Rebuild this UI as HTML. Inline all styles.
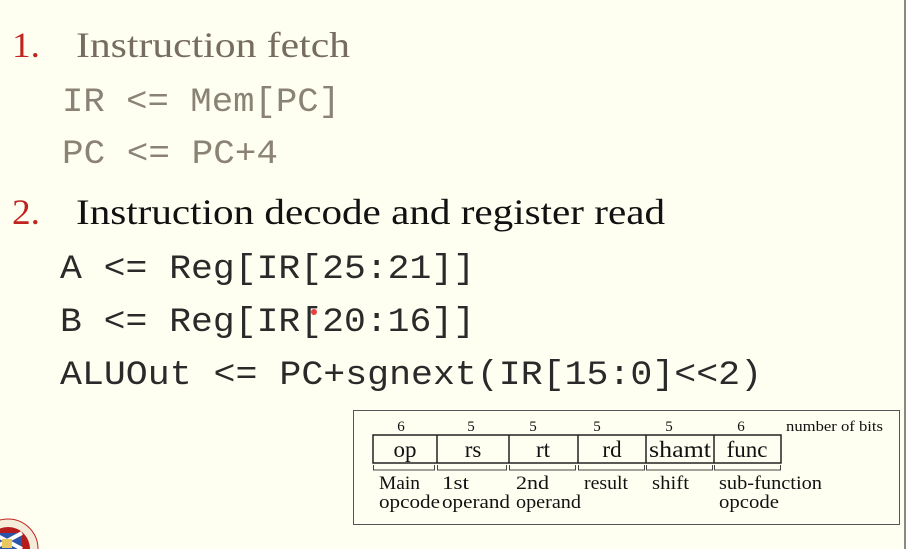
<!DOCTYPE html>
<html><head><meta charset="utf-8"><style>
html,body{margin:0;padding:0;background:#fefff0;width:906px;height:549px;overflow:hidden;}
svg{display:block;}
</style></head><body>
<svg width="906" height="549" viewBox="0 0 906 549" xmlns="http://www.w3.org/2000/svg">
<defs><clipPath id="c"><rect width="906" height="549"/></clipPath></defs>
<g clip-path="url(#c)">
<rect width="906" height="549" fill="#fefff0"/>
<rect x="904" y="0" width="2" height="549" fill="#8a8a80"/>
<g font-family="Liberation Serif, serif">
<text x="12" y="57" font-size="36" fill="#c0241f" textLength="28" lengthAdjust="spacingAndGlyphs">1.</text>
<text x="76" y="57" font-size="36" fill="#766d60" textLength="274" lengthAdjust="spacingAndGlyphs">Instruction fetch</text>
<text x="12" y="224" font-size="36" fill="#c0241f" textLength="28" lengthAdjust="spacingAndGlyphs">2.</text>
<text x="76" y="224" font-size="36" fill="#111" textLength="589" lengthAdjust="spacingAndGlyphs">Instruction decode and register read</text>
</g>
<g font-family="Liberation Mono, monospace" font-size="34">
<text x="62" y="111" fill="#8a8274" textLength="278" lengthAdjust="spacingAndGlyphs">IR &lt;= Mem[PC]</text>
<text x="62" y="163" fill="#8a8274" textLength="216" lengthAdjust="spacingAndGlyphs">PC &lt;= PC+4</text>
<text x="60" y="278" fill="#2a2a2a" textLength="415" lengthAdjust="spacingAndGlyphs">A &lt;= Reg[IR[25:21]]</text>
<text x="60" y="331" fill="#2a2a2a" textLength="415" lengthAdjust="spacingAndGlyphs">B &lt;= Reg[IR[20:16]]</text>
<text x="60" y="384" fill="#2a2a2a" textLength="702" lengthAdjust="spacingAndGlyphs">ALUOut &lt;= PC+sgnext(IR[15:0]&lt;&lt;2)</text>
</g>
<circle cx="314" cy="312" r="3" fill="#e84040"/>
<rect x="353.5" y="410.5" width="546" height="114" fill="none" stroke="#555" stroke-width="1"/>
<g fill="none" stroke="#222" stroke-width="1.5">
<rect x="373" y="435" width="408" height="28"/>
<line x1="437" y1="435" x2="437" y2="463"/>
<line x1="509" y1="435" x2="509" y2="463"/>
<line x1="578" y1="435" x2="578" y2="463"/>
<line x1="646" y1="435" x2="646" y2="463"/>
<line x1="714" y1="435" x2="714" y2="463"/>
</g>
<g fill="none" stroke="#444" stroke-width="1">
<path d="M373.5 465v5h61v-5"/>
<path d="M437.5 465v5h69v-5"/>
<path d="M509.5 465v5h66v-5"/>
<path d="M578.5 465v5h66v-5"/>
<path d="M646.5 465v5h66v-5"/>
<path d="M714.5 465v5h66v-5"/>
</g>
<g font-family="Liberation Serif, serif" fill="#111">
<g font-size="15" text-anchor="middle">
<text x="401" y="431">6</text><text x="471" y="431">5</text><text x="533" y="431">5</text>
<text x="597" y="431">5</text><text x="669" y="431">5</text><text x="741" y="431">6</text>
</g>
<text x="786" y="431" font-size="15" textLength="97" lengthAdjust="spacingAndGlyphs">number of bits</text>
<g font-size="23" text-anchor="middle">
<text x="405" y="457">op</text><text x="473" y="457">rs</text><text x="543" y="457">rt</text>
<text x="612" y="457">rd</text><text x="680" y="457" textLength="62" lengthAdjust="spacingAndGlyphs">shamt</text><text x="747" y="457">func</text>
</g>
<g font-size="19">
<text x="379" y="489" textLength="41" lengthAdjust="spacingAndGlyphs">Main</text><text x="379" y="508" textLength="61" lengthAdjust="spacingAndGlyphs">opcode</text>
<text x="442" y="489" textLength="27" lengthAdjust="spacingAndGlyphs">1st</text><text x="442" y="508" textLength="68" lengthAdjust="spacingAndGlyphs">operand</text>
<text x="516" y="489" textLength="33" lengthAdjust="spacingAndGlyphs">2nd</text><text x="516" y="508" textLength="65" lengthAdjust="spacingAndGlyphs">operand</text>
<text x="584" y="489" textLength="44" lengthAdjust="spacingAndGlyphs">result</text>
<text x="652" y="489" textLength="37" lengthAdjust="spacingAndGlyphs">shift</text>
<text x="719" y="489" textLength="103" lengthAdjust="spacingAndGlyphs">sub-function</text><text x="719" y="508" textLength="60" lengthAdjust="spacingAndGlyphs">opcode</text>
</g>
</g>
<circle cx="8" cy="549" r="30" fill="#f4ecd8" stroke="#c0241f" stroke-width="1"/>
<circle cx="8" cy="549" r="22" fill="#b51c1c"/>
<rect x="-8" y="533" width="30" height="16" fill="#2a55a8"/>
<path d="M-8 533L22 549M22 533L-8 549" stroke="#fff" stroke-width="4"/>
<rect x="2" y="539" width="10" height="9" fill="#e8c860"/>
</g>
</svg>
</body></html>
